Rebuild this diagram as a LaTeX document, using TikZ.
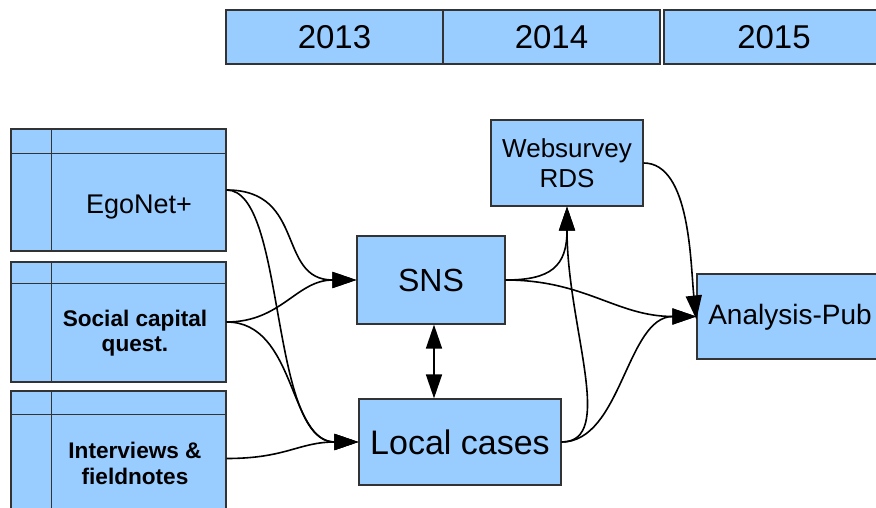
\documentclass[tikz,border=0pt]{standalone}
\usepackage{fontspec}
\setmainfont{Liberation Sans}
\usetikzlibrary{arrows.meta}
\definecolor{boxblue}{HTML}{99CCFF}
\definecolor{edgegrey}{HTML}{333333}
\begin{document}
\begin{tikzpicture}[x=1pt,y=-1pt,
  box/.style={draw=edgegrey, fill=boxblue, line width=1.2pt, rectangle, inner sep=0pt, align=center},
  lbl/.style={inner sep=0pt, align=center},
  divider/.style={draw=edgegrey, line width=1.2pt},
  conn/.style={line width=1.6pt, -{Triangle[length=24pt,width=16pt]}},
  dconn/.style={line width=1.6pt, {Triangle[length=24pt,width=16pt]}-{Triangle[length=24pt,width=16pt]}},
]
\useasboundingbox (0,0) rectangle (876,508);
% timeline
\node[box, minimum width=217pt, minimum height=54pt, font=\fontsize{33}{38}\selectfont] (y13) at (334.5,37) {2013};
\node[box, minimum width=217pt, minimum height=54pt, font=\fontsize{33}{38}\selectfont] (y14) at (551.5,37) {2014};
\node[box, minimum width=220pt, minimum height=54pt, font=\fontsize{33}{38}\selectfont] (y15) at (774,37) {2015};
% left boxes
\node[box, minimum width=215pt, minimum height=122pt] (ego) at (118.5,190) {};
\draw[divider] ([yshift=-25pt]ego.north west) -- ([yshift=-25pt]ego.north east);
\draw[divider] ([xshift=41pt]ego.north west) -- ([xshift=41pt]ego.south west);
\node[lbl, font=\fontsize{27}{30}\selectfont] (egol) at (139,207) {EgoNet+};
\node[box, minimum width=215pt, minimum height=120pt] (soc) at (118.5,322) {};
\draw[divider] ([yshift=-22pt]soc.north west) -- ([yshift=-22pt]soc.north east);
\draw[divider] ([xshift=41pt]soc.north west) -- ([xshift=41pt]soc.south west);
\node[lbl, font=\fontsize{22.6}{25}\selectfont\bfseries] (socl) at (135,333) {Social capital\\quest.};
\node[box, minimum width=215pt, minimum height=129pt] (int) at (118.5,455.5) {};
\draw[divider] ([yshift=-24pt]int.north west) -- ([yshift=-24pt]int.north east);
\draw[divider] ([xshift=41pt]int.north west) -- ([xshift=41pt]int.south west);
\node[lbl, font=\fontsize{22.6}{26}\selectfont\bfseries] (intl) at (135,463) {Interviews \&\\fieldnotes};
% middle
\node[box, minimum width=148pt, minimum height=88pt, font=\fontsize{32}{36}\selectfont] (sns) at (431,280) {SNS};
\node[box, minimum width=202pt, minimum height=86pt, font=\fontsize{34}{38}\selectfont] (loc) at (460,442) {Local cases};
\node[box, minimum width=152pt, minimum height=86pt, font=\fontsize{26}{30}\selectfont] (web) at (567,163) {Websurvey\\RDS};
\node[box, minimum width=187pt, minimum height=85pt] (ana) at (790.5,316.5) {};
\node[lbl, font=\fontsize{28}{32}\selectfont] (anal) at (790,317) {Analysis-Pub};
% connectors
\draw[conn] (ego.east) .. controls +(80,0) and +(-80,0) .. (sns.west);
\draw[conn] (ego.east) .. controls +(60,0) and +(-90,0) .. (loc.west);
\draw[conn] (soc.east) .. controls +(55,0) and +(-60,0) .. (sns.west);
\draw[conn] (soc.east) .. controls +(70,0) and +(-70,0) .. (loc.west);
\draw[conn] ([yshift=-3pt]int.east) .. controls +(60,0) and +(-60,0) .. (loc.west);
\draw[dconn] ([xshift=3pt]sns.south) -- ([xshift=3pt]sns.south |- loc.north);
\draw[conn] (sns.east) .. controls +(45,0) and +(0,60) .. (web.south);
\draw[conn] (sns.east) .. controls +(80,0) and +(-80,0) .. (ana.west);
\draw[conn] (loc.east) .. controls +(55,0) and +(0,120) .. (web.south);
\draw[conn] (loc.east) .. controls +(60,0) and +(-70,0) .. (ana.west);
\draw[conn] (web.east) .. controls +(47,0) and +(-6,-55) .. ([yshift=-3pt]ana.west);
\end{tikzpicture}
\end{document}
